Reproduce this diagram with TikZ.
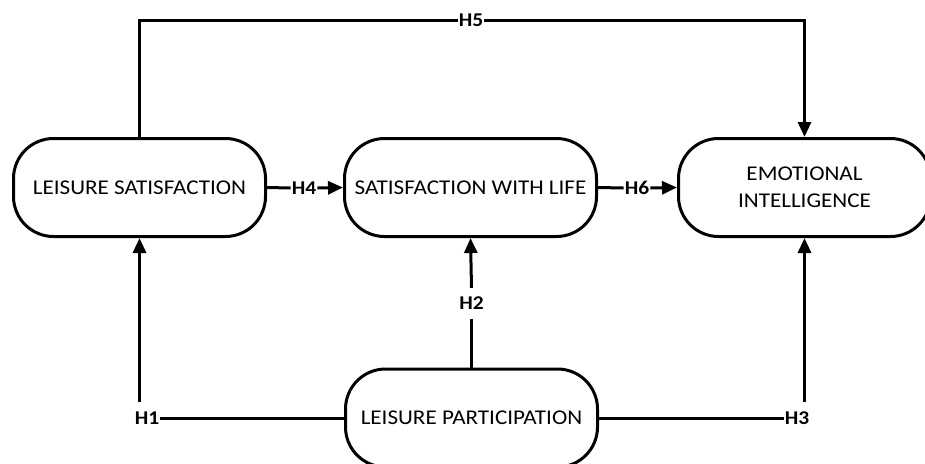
\documentclass[tikz,border=0pt]{standalone}
\usepackage{fontspec}
\setmainfont{Carlito}[FakeStretch=1.1]
\usetikzlibrary{arrows.meta}
\begin{document}
\begin{tikzpicture}[x=1pt,y=-1pt,
  construct/.style={draw=black, line width=3pt, rounded corners=40pt,
    minimum width=252pt, minimum height=98pt, align=center,
    font=\fontsize{21}{27}\selectfont, inner sep=0pt},
  hyp/.style={font=\fontsize{19.5}{24}\selectfont\bfseries, inner xsep=1pt, inner ysep=9pt},
  link/.style={line width=3pt},
  path/.style={line width=3pt, -{Triangle[length=15pt,width=13pt]}}
]
\useasboundingbox (0,0) rectangle (925,463);
\clip (0,0) rectangle (925,463);

% constructs
\node[construct] (ls)  at (139.5,187.5) {LEISURE SATISFACTION};
\node[construct] (swl) at (470.5,187.5) {SATISFACTION WITH LIFE};
\node[construct] (ei)  at (804.5,187.5) {EMOTIONAL\\INTELLIGENCE};
\node[construct] (lp)  at (471.5,418)   {LEISURE PARTICIPATION};

% hypothesis labels
\node[hyp] (h1) at (147,418)   {H1};
\node[hyp] (h2) at (471.5,303.5) {H2};
\node[hyp] (h3) at (797,418)   {H3};
\node[hyp] (h4) at (304,188)   {H4};
\node[hyp] (h5) at (471,20)    {H5};
\node[hyp] (h6) at (637,188)   {H6};

% H1: participation -> leisure satisfaction
\draw[link] (lp.west) -- (h1.east);
\draw[path] (h1.north -| ls.south) -- (ls.south);

% H2: participation -> satisfaction with life
\draw[link] (lp.north) -- (h2.south);
\draw[path] (h2.north) -- (swl.south);

% H3: participation -> emotional intelligence
\draw[link] (lp.east) -- (h3.west);
\draw[path] (h3.north -| ei.south) -- (ei.south);

% H4: leisure satisfaction -> satisfaction with life
\draw[link] (ls.east) -- (h4.west);
\draw[path] (h4.east) -- (swl.west);

% H5: leisure satisfaction -> emotional intelligence
\draw[link] (ls.north) |- (h5.west);
\draw[path] (h5.east) -| (ei.north);

% H6: satisfaction with life -> emotional intelligence
\draw[link] (swl.east) -- (h6.west);
\draw[path] (h6.east) -- (ei.west);
\end{tikzpicture}
\end{document}
